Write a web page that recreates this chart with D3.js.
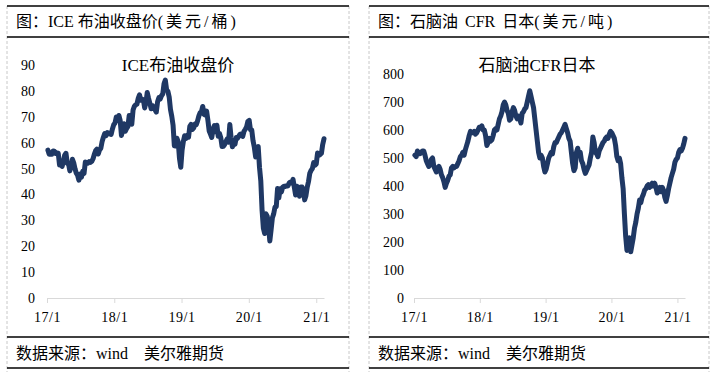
<!DOCTYPE html>
<html>
<head>
<meta charset="utf-8">
<script src="https://cdn.jsdelivr.net/npm/d3@7"></script>
<style>
  body { margin: 0; background: #fff; }
  svg text { font-family: "Liberation Serif", "Noto Sans CJK SC", serif; fill: #000; }
</style>
</head>
<body>
<div id="chart"></div>
<script>
// weekly closes (Fridays)
const brent2017 = [57.1, 55.5, 55.5, 55.5, 56.8, 56.7, 55.8, 56.0, 55.9, 51.4, 51.8, 50.8, 52.8,
  55.2, 55.9, 52.0, 51.7, 49.1, 50.8, 53.6, 52.2, 49.9, 48.2, 47.4, 45.5, 47.9, 46.7, 48.9, 48.1,
  52.5, 52.4, 52.1, 52.7, 52.4, 52.8, 53.8, 55.6, 56.9, 57.5, 55.6, 57.2, 57.8, 60.4, 62.1, 63.5,
  62.7, 63.9, 63.7, 63.4, 63.2, 65.3, 66.9];
const brent2018 = [67.6, 69.9, 68.6, 70.5, 68.6, 62.8, 64.8, 67.3, 64.4, 65.5, 66.2, 70.5, 70.3,
  67.1, 72.6, 74.1, 74.6, 74.9, 77.1, 78.5, 76.4, 76.8, 76.5, 73.4, 75.6, 79.4, 77.1, 75.3, 73.1,
  74.3, 73.2, 72.8, 71.8, 75.8, 77.4, 76.8, 78.1, 78.8, 82.7, 84.2, 80.4, 79.8, 77.6, 72.8, 70.2,
  66.8, 58.8, 58.7, 61.7, 60.3, 53.8, 50.5];
const brent2019 = [57.1, 60.5, 62.7, 61.6, 62.8, 62.1, 66.3, 67.1, 65.1, 65.7, 67.2, 67.0, 68.4,
  70.3, 71.6, 72.0, 74.0, 70.9, 70.6, 72.2, 68.7, 64.5, 63.3, 62.0, 65.2, 66.6, 64.2, 66.7, 62.5,
  63.5, 61.9, 58.5, 58.6, 59.3, 60.4, 61.5, 60.2, 67.0, 61.9, 58.4, 60.5, 59.4, 62.0, 61.7, 62.5,
  63.3, 63.4, 62.4, 64.4, 65.2, 66.1, 68.2];
const brent2020 = [68.6, 65.0, 64.9, 60.7, 58.2, 54.5, 57.3, 58.5, 50.5, 45.3, 33.9, 27.0, 24.9,
  32.5, 31.5, 28.1, 22.0, 26.4, 31.0, 32.5, 35.1, 35.3, 42.3, 38.7, 42.2, 41.0, 42.8, 43.2, 43.1,
  43.3, 43.3, 44.4, 44.8, 44.4, 45.8, 42.7, 39.8, 43.2, 41.9, 39.3, 42.9, 42.9, 41.8, 37.9, 39.5,
  42.8, 45.0, 48.2, 49.3, 50.0, 52.3, 51.3];
const brent2021 = [51.8, 56.0, 55.1, 55.4, 55.9, 59.3, 61.5];

const naphtha2017 = [510, 505, 525, 515, 515, 520, 525, 525, 510, 490, 480, 470, 480,
  495, 500, 470, 460, 450, 465, 470, 460, 440, 430, 415, 395, 410, 420, 435, 440,
  465, 470, 465, 470, 470, 480, 490, 505, 510, 520, 510, 530, 545, 560, 580, 595,
  590, 590, 595, 585, 590, 600, 610];
const naphtha2018 = [610, 615, 600, 600, 580, 545, 555, 570, 560, 565, 580, 600, 605,
  600, 620, 640, 650, 665, 690, 700, 690, 670, 660, 635, 640, 665, 680, 670, 650,
  640, 650, 640, 625, 660, 665, 675, 680, 700, 720, 740, 720, 700, 680, 640, 600,
  560, 520, 500, 510, 500, 470, 450];
const naphtha2019 = [460, 480, 500, 510, 520, 515, 540, 555, 555, 565, 575, 585, 590,
  600, 610, 620, 605, 590, 570, 560, 520, 480, 455, 465, 520, 535, 510, 520, 490,
  480, 460, 445, 455, 465, 475, 500, 520, 575, 555, 520, 515, 505, 525, 535, 545,
  555, 560, 570, 575, 570, 585, 595];
const naphtha2020 = [590, 580, 570, 545, 505, 490, 500, 480, 430, 390, 300, 220, 170,
  200, 215, 165, 190, 215, 250, 270, 300, 320, 350, 340, 360, 370, 385, 390, 400,
  405, 395, 400, 410, 400, 410, 395, 375, 390, 395, 380, 395, 385, 360, 345, 365,
  390, 410, 430, 445, 460, 485, 495];
const naphtha2021 = [500, 520, 530, 525, 535, 550, 570];

const brent = [].concat(brent2017, brent2018, brent2019, brent2020, brent2021);
const naphtha = [].concat(naphtha2017, naphtha2018, naphtha2019, naphtha2020, naphtha2021);
const weeks = d3.timeFriday.range(new Date(2017, 0, 1), new Date(2021, 1, 13));

const yearTicks = [new Date(2017, 0, 1), new Date(2018, 0, 1), new Date(2019, 0, 1),
  new Date(2020, 0, 1), new Date(2021, 0, 1)];
const yearLabels = ['17/1', '18/1', '19/1', '20/1', '21/1'];
const brentTicks = [0, 10, 20, 30, 40, 50, 60, 70, 80, 90];
const naphthaTicks = [0, 100, 200, 300, 400, 500, 600, 700, 800];

const svg = d3.select('#chart')
  .append('svg')
    .attr('width', 724)
    .attr('height', 377);

const panels = [
  {left: 7, right: 349, x: [47, 324], y: [298, 65], max: 90, ticks: brentTicks, pad: 12,
   values: brent, heading: '图：ICE 布油收盘价', gap: 0, unit: '(美元/桶)',
   name: 'ICE布油收盘价', nameX: 178},
  {left: 369, right: 709, x: [414, 685], y: [298, 74], max: 800, ticks: naphthaTicks, pad: 10,
   values: naphtha, heading: '图：石脑油 CFR 日本', gap: 3, unit: '(美元/吨)',
   name: '石脑油CFR日本', nameX: 537}
];

// dashed page borders
[7, 349, 369, 709].forEach(xp => {
  svg.append('line')
    .attr('x1', xp).attr('x2', xp).attr('y1', 6).attr('y2', 372)
    .attr('stroke', '#c8c8c8')
    .attr('stroke-dasharray', '3,2');
});

panels.forEach(p => {
  const g = svg.append('g');

  // table rules
  [6, 37, 337, 368].forEach(yp => {
    g.append('line')
      .attr('x1', p.left).attr('x2', p.right).attr('y1', yp).attr('y2', yp)
      .attr('stroke', '#000')
      .attr('stroke-width', 1.5);
  });

  const head = g.append('text')
    .attr('x', p.left + 9).attr('y', 27)
    .style('font-size', '16px');
  head.append('tspan').style('word-spacing', p.gap + 'px').text(p.heading);
  head.append('tspan').style('letter-spacing', '3px').text(p.unit);

  g.append('text')
    .attr('x', p.left + 9).attr('y', 359)
    .style('font-size', '16px')
    .text('数据来源：wind\u3000美尔雅期货');

  const x = d3.scaleTime()
    .domain([new Date(2017, 0, 1), weeks[weeks.length - 1]])
    .range(p.x);
  const y = d3.scaleLinear()
    .domain([0, p.max])
    .range(p.y);

  g.append('g')
    .attr('transform', 'translate(' + p.x[0] + ',0)')
    .call(d3.axisLeft(y).tickValues(p.ticks).tickSize(0).tickPadding(p.pad))
    .call(a => a.select('.domain').remove())
    .call(a => a.selectAll('text')
      .style('font-size', '14px')
      .attr('fill', '#000'));

  g.append('g')
    .attr('transform', 'translate(0,' + p.y[0] + ')')
    .call(d3.axisBottom(x)
      .tickValues(yearTicks)
      .tickFormat((d, i) => yearLabels[i])
      .tickSize(5)
      .tickSizeOuter(0)
      .tickPadding(9))
    .call(a => a.select('.domain').attr('stroke', '#d9d9d9'))
    .call(a => a.selectAll('.tick line').attr('stroke', '#d9d9d9'))
    .call(a => a.selectAll('text')
      .style('font-size', '14px')
      .style('letter-spacing', '0.5px')
      .attr('fill', '#000'));

  g.append('text')
    .attr('x', p.nameX).attr('y', 71)
    .attr('text-anchor', 'middle')
    .style('font-size', '17px')
    .text(p.name);

  const line = d3.line()
    .x((d, i) => x(weeks[i]))
    .y(d => y(d));

  g.append('path')
    .datum(p.values)
    .attr('d', line)
    .attr('fill', 'none')
    .attr('stroke', '#1f3864')
    .attr('stroke-width', 5)
    .attr('stroke-linejoin', 'round')
    .attr('stroke-linecap', 'round');
});
</script>
</body>
</html>
